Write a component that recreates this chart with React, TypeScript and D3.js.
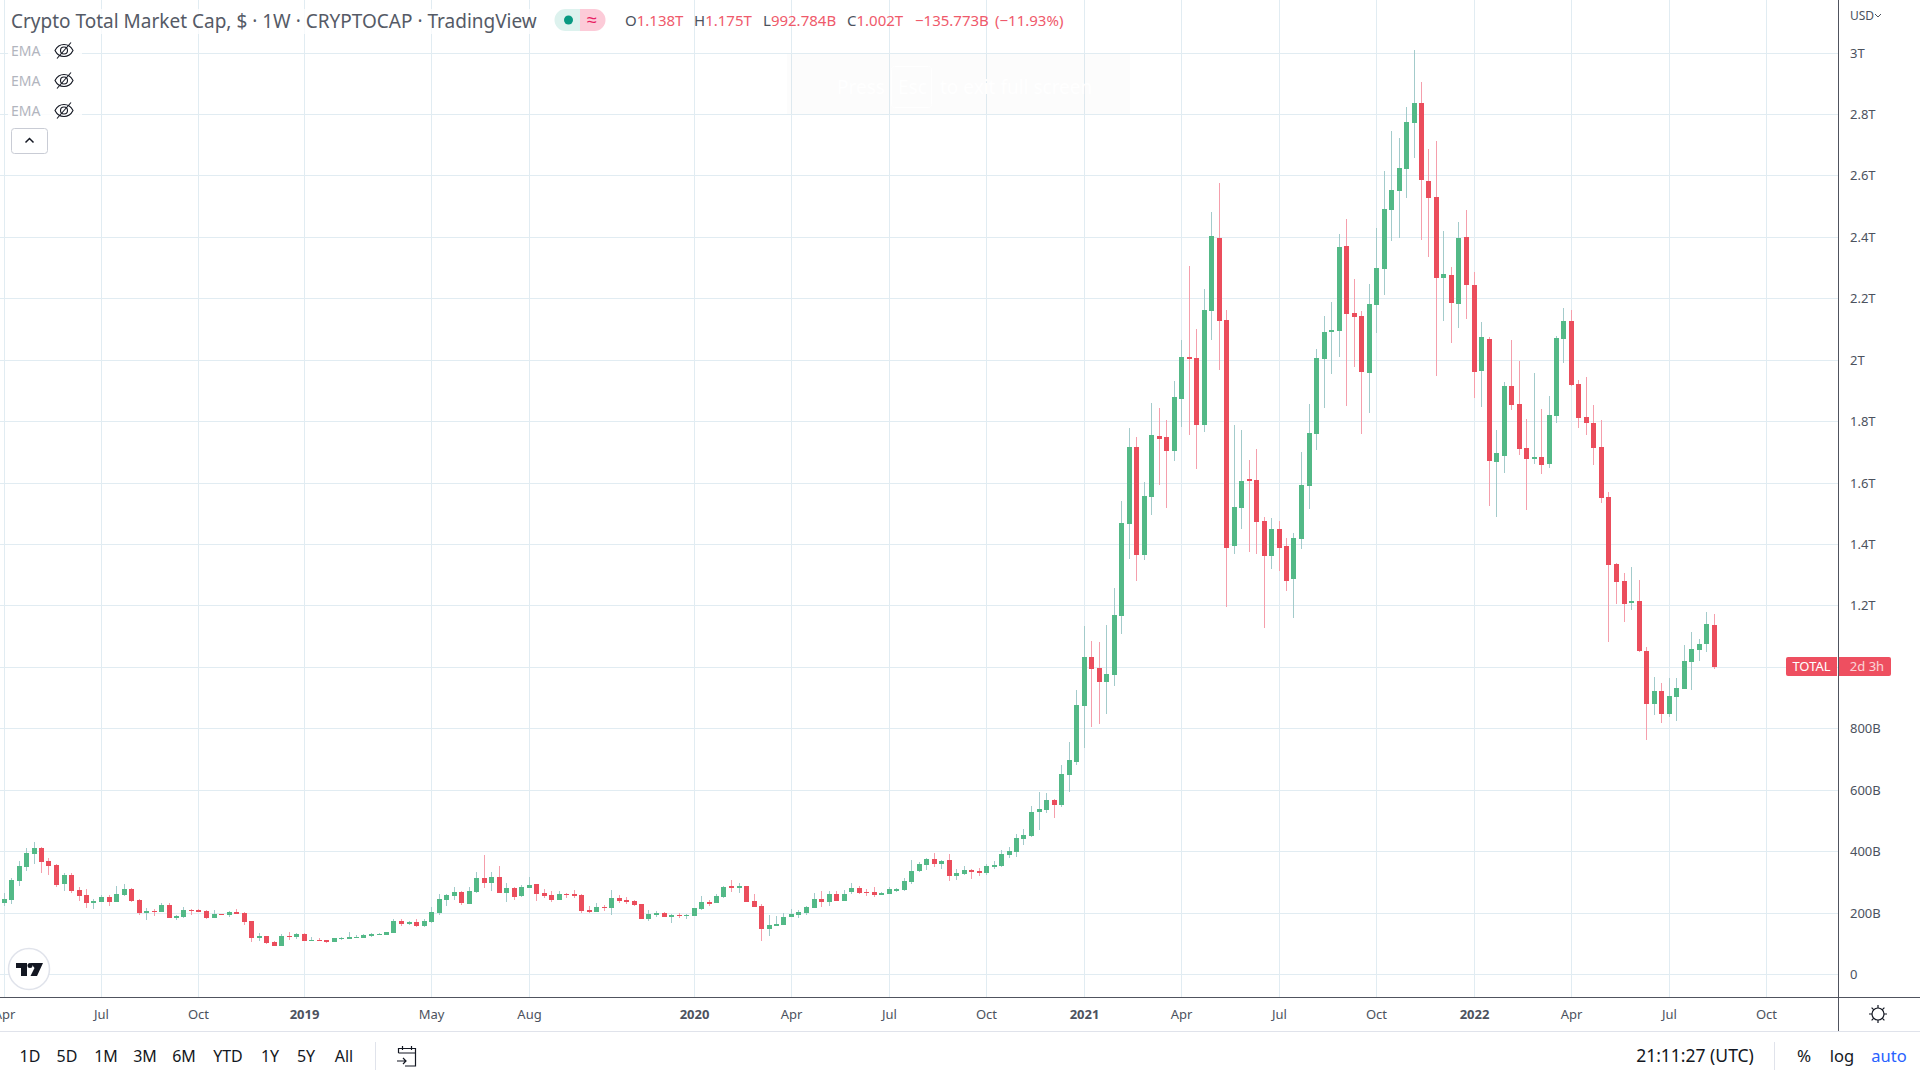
import { useEffect, useRef } from 'react';
import * as d3 from 'd3';

// weekly candles in billions of USD
const opens = [
  233,243,305,350,393,412,370,357,295,324,
  275,259,233,236,252,236,259,279,243,200,
  207,204,226,184,187,210,210,207,184,197,
  194,204,200,174,119,125,106,93,125,122,
  132,109,112,112,106,116,116,119,119,125,
  129,129,135,174,165,171,158,171,200,243,
  256,269,230,269,314,298,318,265,282,256,
  282,295,266,259,243,262,262,259,210,204,
  220,217,249,243,239,230,181,194,200,187,
  194,191,191,213,236,233,253,288,282,288,
  239,223,148,158,161,187,194,200,217,246,
  236,262,239,269,282,269,269,259,262,272,
  275,301,337,357,376,360,373,321,327,340,
  337,331,350,353,389,399,441,451,529,536,
  568,552,650,692,875,1034,998,953,976,1168,
  1467,1718,1367,1555,1754,1751,1705,1875,2011,2008,
  1790,2161,2399,2132,1396,1520,1614,1611,1477,1363,
  1451,1396,1288,1419,1591,1761,2005,2093,2096,2373,
  2155,2145,1959,2181,2298,2490,2552,2624,2774,2836,
  2585,2533,2269,2279,2184,2402,2246,1966,2070,1669,
  1689,1917,1858,1715,1679,1686,1663,1819,2070,2129,
  1923,1816,1796,1718,1555,1337,1282,1210,1217,1054,
  881,924,849,904,930,1018,1057,1077,1138,
];
const highs = [
  264,314,370,412,432,415,380,360,331,331,
  285,279,246,259,259,288,295,282,246,217,
  213,233,233,194,220,213,213,210,210,197,
  207,213,204,174,135,125,109,132,139,135,
  135,122,119,112,119,121,139,129,132,135,
  135,138,181,181,174,181,181,220,262,262,
  285,272,285,334,389,334,354,298,285,292,
  318,295,279,272,272,265,275,262,223,233,
  226,275,259,253,243,230,210,207,204,197,
  200,197,217,256,243,262,288,308,298,288,
  262,230,194,191,200,213,210,223,265,272,
  272,272,275,298,288,279,285,269,285,282,
  314,373,367,380,396,373,393,344,353,344,
  347,360,370,406,415,458,474,549,595,591,
  572,682,757,927,1135,1086,1083,1139,1259,1542,
  1780,1751,1604,1862,1845,1806,1933,2067,2308,2103,
  2233,2484,2578,2165,1790,1774,1676,1712,1490,1487,
  1477,1422,1438,1702,1858,2038,2145,2191,2412,2461,
  2266,2161,2249,2432,2617,2748,2722,2823,3011,2907,
  2689,2715,2422,2305,2451,2490,2288,2125,2077,1774,
  1930,2067,1998,1810,1959,1842,1884,2080,2171,2165,
  1937,1946,1855,1806,1572,1340,1308,1327,1285,1067,
  969,950,966,966,1073,1116,1093,1181,1175,
];
const lows = [
  223,230,288,337,360,331,324,285,272,265,
  239,217,213,236,223,236,256,236,194,178,
  191,204,184,178,184,194,204,181,184,194,
  187,197,161,106,109,99,93,93,112,116,
  109,109,109,103,106,112,116,119,119,122,
  129,129,135,158,161,155,155,168,194,223,
  243,226,230,265,282,272,265,236,243,253,
  282,239,249,236,243,249,249,200,200,204,
  207,194,233,230,223,181,174,187,187,168,
  184,181,191,210,223,233,249,269,265,236,
  220,109,125,158,161,187,184,194,217,220,
  223,239,239,262,262,256,253,259,262,269,
  272,295,334,340,350,344,305,308,324,311,
  321,324,344,350,380,383,422,448,471,526,
  510,546,595,682,738,806,816,849,940,1109,
  1353,1282,1350,1497,1595,1520,1673,1783,1757,1647,
  1767,2067,1969,1197,1370,1451,1376,1370,1129,1321,
  1314,1249,1161,1386,1516,1709,1845,1956,2011,1852,
  1979,1761,1829,2090,2213,2389,2399,2529,2660,2393,
  2337,1950,2129,2057,2106,2135,1878,1849,1526,1490,
  1634,1839,1692,1513,1663,1630,1650,1797,1992,1917,
  1780,1757,1660,1536,1083,1207,1148,1187,1051,764,
  845,819,839,826,930,927,1021,1051,993,
];
const closes = [
  246,308,354,396,412,367,354,292,324,272,
  256,233,240,252,236,262,279,239,200,207,
  204,226,184,191,210,207,204,184,197,194,
  204,197,171,119,125,103,93,125,122,132,
  109,112,109,106,119,119,122,122,129,132,
  132,138,174,165,171,158,174,204,246,259,
  269,233,272,314,298,318,265,282,253,285,
  292,262,256,243,262,259,256,207,204,220,
  217,249,239,236,226,181,197,200,187,194,
  191,194,217,236,230,256,285,282,288,236,
  220,148,161,165,187,197,204,220,246,236,
  262,239,262,282,265,265,259,265,279,279,
  305,337,360,376,360,370,321,331,340,334,
  331,353,357,393,402,445,454,529,539,568,
  552,653,699,878,1034,995,953,979,1171,1471,
  1718,1367,1559,1757,1744,1705,1881,2011,2005,1790,
  2165,2406,2129,1389,1523,1608,1608,1474,1363,1451,
  1389,1282,1422,1595,1764,2008,2093,2099,2370,2152,
  2142,1963,2184,2301,2494,2555,2627,2777,2836,2588,
  2529,2269,2282,2187,2399,2246,1963,2077,1673,1699,
  1917,1855,1712,1679,1686,1660,1823,2073,2129,1920,
  1813,1796,1715,1552,1334,1279,1207,1217,1054,881,
  924,849,907,933,1021,1060,1077,1142,1002,
];

// week index of each time axis label
const timeTickIndex = [0, 13, 26, 40, 57, 70, 92, 105, 118, 131, 144, 157, 170, 183, 196, 209, 222, 235];
const timeTickLabels = ['Apr', 'Jul', 'Oct', '2019', 'May', 'Aug', '2020', 'Apr', 'Jul', 'Oct', '2021', 'Apr', 'Jul', 'Oct', '2022', 'Apr', 'Jul', 'Oct'];
const priceTicks = [0, 200, 400, 600, 800, 1000, 1200, 1400, 1600, 1800, 2000, 2200, 2400, 2600, 2800, 3000];
const rangeButtons = ['1D', '5D', '1M', '3M', '6M', 'YTD', '1Y', '5Y', 'All'];
const rangeButtonX = [30, 67, 106, 145, 184, 228, 270, 306, 344];
const emaRows = [50.5, 80.5, 110.5];

const FONT = "'Noto Sans', sans-serif";
const UP = '#53b987';
const DOWN = '#eb4d5c';
const UP_WICK = '#a3cbcb';
const DOWN_WICK = '#f59fac';
const GRID = '#e1ecf2';
const AXIS = '#50535e';
const TEXT = '#4c525e';
const RED_TEXT = '#ef5a6b';

const plotRight = 1838;
const plotBottom = 997;

const formatPrice = (v: number) => (v >= 1000 ? `${v / 1000}T` : v === 0 ? '0' : `${v}B`);

const EyeOff = ({ cx, cy }: { cx: number; cy: number }) => (
  <g fill="none" stroke="#131722" strokeWidth={1.1}>
    <path d={`M${cx - 9} ${cy}C${cx - 5} ${cy - 8} ${cx + 5} ${cy - 8} ${cx + 9} ${cy}C${cx + 5} ${cy + 8} ${cx - 5} ${cy + 8} ${cx - 9} ${cy}Z`} />
    <circle cx={cx} cy={cy} r={3.5} />
    <path d={`M${cx - 7} ${cy + 8}L${cx + 7} ${cy - 8}`} />
  </g>
);

export default function App() {
  const chartRef = useRef<SVGGElement>(null);

  useEffect(() => {
    if (!chartRef.current) return;
    const g = d3.select(chartRef.current);
    g.selectAll('*').remove();

    const x = d3.scaleLinear().domain([0, 235]).range([4, 1766.5]);
    const y = d3.scaleLinear().domain([0, 3000]).range([974.42, 53.12]);
    const col = (i: number) => Math.floor(x(i));

    // Grid lines
    g.append('g')
      .selectAll('line')
      .data(priceTicks)
      .join('line')
      .attr('x1', 0)
      .attr('x2', plotRight)
      .attr('y1', d => Math.floor(y(d)) + 0.5)
      .attr('y2', d => Math.floor(y(d)) + 0.5)
      .attr('stroke', GRID);

    g.append('g')
      .selectAll('line')
      .data(timeTickIndex)
      .join('line')
      .attr('x1', d => col(d) + 0.5)
      .attr('x2', d => col(d) + 0.5)
      .attr('y1', 0)
      .attr('y2', plotBottom)
      .attr('stroke', GRID);

    // Candles
    const candles = g.append('g')
      .selectAll('g')
      .data(opens.map((o, i) => ({ i, o, h: highs[i], l: lows[i], c: closes[i] })))
      .join('g');

    candles.append('rect')
      .attr('x', d => col(d.i))
      .attr('width', 1)
      .attr('y', d => Math.round(y(d.h)))
      .attr('height', d => Math.max(1, Math.round(y(d.l)) - Math.round(y(d.h))))
      .attr('fill', d => (d.c >= d.o ? UP_WICK : DOWN_WICK));

    candles.append('rect')
      .attr('x', d => col(d.i) - 2)
      .attr('width', 5)
      .attr('y', d => Math.round(y(Math.max(d.o, d.c))))
      .attr('height', d => Math.max(1, Math.round(y(Math.min(d.o, d.c))) - Math.round(y(Math.max(d.o, d.c)))))
      .attr('fill', d => (d.c >= d.o ? UP : DOWN));

    // Price axis labels, the 1T one sits under the countdown tag in the reference
    g.append('g')
      .selectAll('text')
      .data(priceTicks.filter(d => d !== 1000))
      .join('text')
      .attr('x', 1850)
      .attr('y', d => Math.floor(y(d)) + 4.5)
      .attr('font-family', FONT)
      .attr('font-size', 13)
      .attr('fill', TEXT)
      .text(d => formatPrice(d));

    // Time axis labels
    g.append('g')
      .selectAll('text')
      .data(timeTickIndex)
      .join('text')
      .attr('x', d => col(d) + 0.5)
      .attr('y', 1019)
      .attr('text-anchor', 'middle')
      .attr('font-family', FONT)
      .attr('font-size', 13)
      .attr('font-weight', (_d, i) => (timeTickLabels[i].startsWith('20') ? 700 : 400))
      .attr('fill', TEXT)
      .text((_d, i) => timeTickLabels[i]);
  }, []);

  return (
    <svg width={1920} height={1080} style={{ position: 'fixed', left: 0, top: 0, background: '#fff' }}>
      <g ref={chartRef} />

      {/* browser full screen hint, barely visible */}
      <rect x={787} y={54} width={343} height={60} fill="#000" opacity={0.012} />
      <rect x={891.5} y={66.5} width={40} height={41} rx={3} fill="none" stroke="#fff" />
      <g fontFamily={FONT} fontSize={19} fill="#fff">
        <text x={837} y={94}>Press</text>
        <text x={898} y={94}>Esc</text>
        <text x={940} y={94}>to exit full screen</text>
      </g>

      {/* frame */}
      <rect x={plotRight} y={0} width={1} height={1031} fill={AXIS} />
      <rect x={0} y={plotBottom} width={1920} height={1} fill={AXIS} />
      <rect x={0} y={1031} width={1920} height={1} fill="#e0e3eb" />

      {/* legend */}
      <rect x={8} y={9} width={530} height={25} fill="#fff" opacity={0.75} />
      <text x={11} y={27.5} fontFamily={FONT} fontSize={19} fill="#555a66">
        Crypto Total Market Cap, $ · 1W · CRYPTOCAP · TradingView
      </text>
      <path d="M580 9H565.5a11 11 0 0 0 0 22H580Z" fill="#ddf2ee" />
      <path d="M580 9H594.5a11 11 0 0 1 0 22H580Z" fill="#fccbd8" />
      <circle cx={568.5} cy={20} r={4.5} fill="#089981" />
      <text x={592} y={26} textAnchor="middle" fontFamily={FONT} fontSize={18} fill="#e91e63">≈</text>

      <g fontFamily={FONT} fontSize={15} fill={RED_TEXT}>
        <text x={625} y={26}><tspan fill={TEXT}>O</tspan>1.138T</text>
        <text x={694} y={26}><tspan fill={TEXT}>H</tspan>1.175T</text>
        <text x={763} y={26}><tspan fill={TEXT}>L</tspan>992.784B</text>
        <text x={847} y={26}><tspan fill={TEXT}>C</tspan>1.002T</text>
        <text x={915} y={26}>−135.773B</text>
        <text x={995} y={26}>(−11.93%)</text>
      </g>

      {emaRows.map(cy => (
        <g key={cy}>
          <rect x={8} y={cy - 12} width={74} height={24} fill="#fff" opacity={0.85} />
          <text x={11} y={cy + 5} fontFamily={FONT} fontSize={14} fill="#b2b5be">EMA</text>
          <EyeOff cx={64} cy={cy} />
        </g>
      ))}
      <rect x={11.5} y={128.5} width={36} height={25} rx={3} fill="#fff" stroke="#c9ccd5" />
      <path d="M25.5 142.5l4-4 4 4" fill="none" stroke="#131722" strokeWidth={1.5} />

      {/* TradingView badge */}
      <circle cx={29} cy={969} r={20.5} fill="#fff" stroke="#e0e3eb" strokeWidth={1.5} />
      <path d="M16 963H27V976H21V968H16ZM30.5 963H43L37 976H30.5L34.5 968Z" fill="#131722" />
      <circle cx={30} cy={965.5} r={2.5} fill="#131722" />

      {/* countdown tag */}
      <path d="M1788 657H1837V676H1788a2 2 0 0 1-2-2V659a2 2 0 0 1 2-2Z" fill="#ee4f60" />
      <path d="M1839 657H1889a2 2 0 0 1 2 2V674a2 2 0 0 1-2 2H1839Z" fill="#ee4f60" />
      <text x={1811.5} y={671} textAnchor="middle" fontFamily={FONT} fontSize={13} fill="#fff">TOTAL</text>
      <text x={1867} y={671} textAnchor="middle" fontFamily={FONT} fontSize={13} fill="#fff" opacity={0.75}>2d 3h</text>

      {/* currency selector */}
      <text x={1850} y={20} fontFamily={FONT} fontSize={12} fill={TEXT}>USD</text>
      <path d="M1875 14l3 3 3-3" fill="none" stroke={TEXT} />

      {/* gear */}
      <circle cx={1878} cy={1014} r={6} fill="none" stroke="#131722" strokeWidth={1.2} />
      <path d="M1878 1005v3M1878 1020v3M1869 1014h3M1884 1014h3M1871.6 1007.6l2 2M1882.4 1018.4l2 2M1871.6 1020.4l2-2M1882.4 1009.6l2-2" stroke="#131722" strokeWidth={1.2} />

      {/* bottom toolbar */}
      {rangeButtons.map((label, i) => (
        <text key={label} x={rangeButtonX[i]} y={1061.5} textAnchor="middle" fontFamily={FONT} fontSize={16} fill="#131722">{label}</text>
      ))}
      <rect x={375} y={1042} width={1} height={28} fill="#e0e3eb" />
      <path d="M398.5 1053V1048.5H415.5V1066H405M398.5 1053H415.5M402.5 1046V1050M411.5 1046V1050M397 1061H406M403 1058l3 3-3 3" fill="none" stroke="#131722" strokeWidth={1.2} />

      <text x={1695} y={1061.5} textAnchor="middle" fontFamily={FONT} fontSize={17.5} fill="#131722">21:11:27 (UTC)</text>
      <rect x={1774} y={1042} width={1} height={28} fill="#e0e3eb" />
      <text x={1804} y={1062} textAnchor="middle" fontFamily={FONT} fontSize={17} fill="#131722">%</text>
      <text x={1842} y={1061.5} textAnchor="middle" fontFamily={FONT} fontSize={16.5} fill="#131722">log</text>
      <text x={1889} y={1061.5} textAnchor="middle" fontFamily={FONT} fontSize={16.5} fill="#2962ff">auto</text>
    </svg>
  );
}
